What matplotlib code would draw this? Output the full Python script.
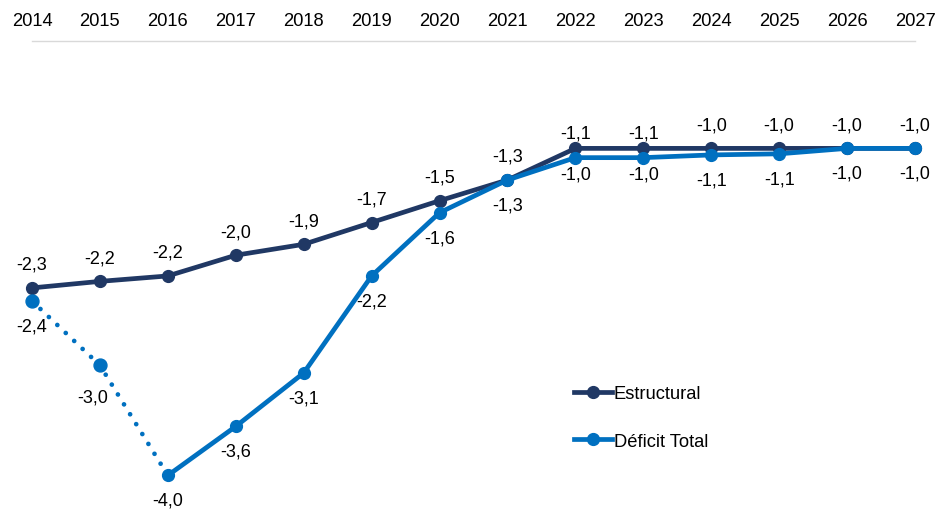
import matplotlib
matplotlib.use("Agg")
import matplotlib.pyplot as plt
from matplotlib.lines import Line2D

plt.rcParams['font.family'] = ['Liberation Sans', 'DejaVu Sans']

years = [2014, 2015, 2016, 2017, 2018, 2019, 2020, 2021, 2022, 2023, 2024, 2025, 2026, 2027]
estructural = [-2.28, -2.22, -2.17, -1.98, -1.88, -1.68, -1.48, -1.29, -1.0, -1.0, -1.0, -1.0, -1.0, -1.0]
deficit_total = [-2.40, -2.99, -4.0, -3.55, -3.06, -2.17, -1.59, -1.29, -1.085, -1.085, -1.06, -1.05, -1.0, -1.0]
estructural_labels = ["-2,3", "-2,2", "-2,2", "-2,0", "-1,9", "-1,7", "-1,5", "-1,3", "-1,1", "-1,1", "-1,0", "-1,0", "-1,0", "-1,0"]
deficit_labels = ["-2,4", "-3,0", "-4,0", "-3,6", "-3,1", "-2,2", "-1,6", "-1,3", "-1,0", "-1,0", "-1,1", "-1,1", "-1,0", "-1,0"]

# label offsets (points) - style only
est_off = [(0, 17)] * 8 + [(0, 11), (0, 11)] + [(0, 17)] * 4
def_off = [(0, -18), (-5, -23)] + [(0, -18)] * 6 + [(0, -12), (0, -12)] + [(0, -18)] * 4

c_est = "#203864"
c_def = "#0070C0"

fig = plt.figure(figsize=(9.35, 5.1), dpi=100)
W, H = 935, 510
ax = fig.add_axes([32 / W, 0, 883 / W, 468 / H])
ax.set_xlim(2014, 2027)
ax.set_ylim(-4.308, -0.015)

lw = 3.4
ms = 8.5
ax.plot(years, estructural, color=c_est, lw=lw, marker='o', ms=ms, clip_on=False, zorder=3)
ax.plot(years[:3], deficit_total[:3], color=c_def, lw=lw, linestyle=(0, (0.01, 2.45)),
        dash_capstyle='round', clip_on=False, zorder=4)
ax.plot(years[:2], deficit_total[:2], color=c_def, lw=0, marker='o', ms=ms + 0.8, clip_on=False, zorder=4)
ax.plot(years[2:], deficit_total[2:], color=c_def, lw=lw, marker='o', ms=ms, clip_on=False, zorder=4)

fs = 13
for x, y, t, o in zip(years, estructural, estructural_labels, est_off):
    ax.annotate(t, (x, y), xytext=o, textcoords='offset points', ha='center', va='center',
                fontsize=fs, color='#000000', annotation_clip=False)
for x, y, t, o in zip(years, deficit_total, deficit_labels, def_off):
    ax.annotate(t, (x, y), xytext=o, textcoords='offset points', ha='center', va='center',
                fontsize=fs, color='#000000', annotation_clip=False)

for s in ['left', 'right', 'bottom']:
    ax.spines[s].set_visible(False)
ax.spines['top'].set_color('#D9D9D9')
ax.spines['top'].set_linewidth(1.0)
ax.xaxis.tick_top()
ax.set_xticks(years)
ax.set_xticklabels([str(y) for y in years], fontsize=13.2)
ax.tick_params(axis='x', length=0, pad=9)
ax.set_yticks([])

handles = [Line2D([], [], color=c_est, lw=lw, marker='o', ms=ms),
           Line2D([], [], color=c_def, lw=lw, marker='o', ms=ms)]
fig.legend(handles, ["Estructural", "Déficit Total"], loc='upper left',
           bbox_to_anchor=(557 / W, 1 - 370 / H), frameon=False, fontsize=13.2,
           handlelength=2.1, handletextpad=0.1, labelspacing=1.65)

fig.savefig("out.png", dpi=100)
